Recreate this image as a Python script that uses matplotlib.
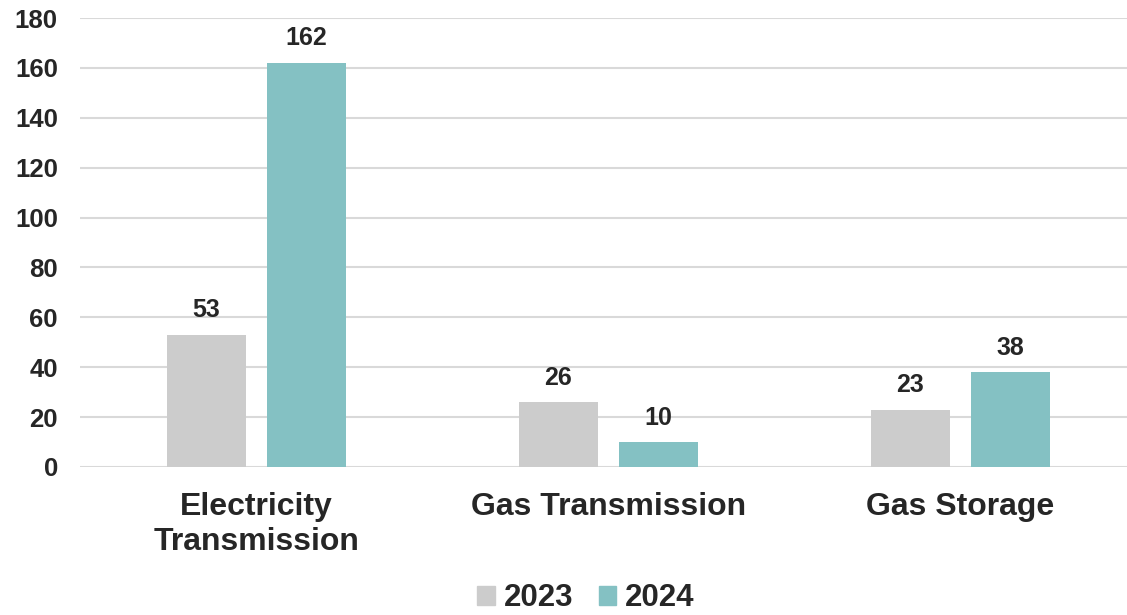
import numpy as np
import matplotlib
matplotlib.use("Agg")
import matplotlib.pyplot as plt
from matplotlib.patches import Patch

categories = ["Electricity\nTransmission", "Gas Transmission", "Gas Storage"]
years = ["2023", "2024"]
values_2023 = [53, 26, 23]
values_2024 = [162, 10, 38]
yticks = [0, 20, 40, 60, 80, 100, 120, 140, 160, 180]

colors = ["#cccccc", "#84c1c3"]
text_color = "#262626"

plt.rcParams["font.family"] = ["Liberation Sans", "DejaVu Sans"]
plt.rcParams["font.weight"] = "bold"

fig = plt.figure(figsize=(11.27, 6.15), dpi=100)
ax = fig.add_axes([0.071, 0.2407, 0.929, 0.73])

x = np.arange(len(categories))
w = 0.224
off = 0.142
b1 = ax.bar(x - off, values_2023, w, color=colors[0], zorder=3)
b2 = ax.bar(x + off, values_2024, w, color=colors[1], zorder=3)

for bars, vals in [(b1, values_2023), (b2, values_2024)]:
    for rect, v in zip(bars, vals):
        ax.annotate(str(v), (rect.get_x() + rect.get_width() / 2, v),
                    xytext=(0, 9), textcoords="offset points",
                    ha="center", va="bottom", fontsize=18,
                    fontweight="bold", color=text_color)

ax.set_ylim(0, 180)
ax.set_xlim(-0.501, 2.473)
ax.set_yticks(yticks)
ax.set_yticklabels([str(t) for t in yticks], fontsize=18.5, fontweight="bold", color=text_color)
ax.set_xticks(x)
ax.set_xticklabels(categories, fontsize=23, fontweight="bold", color=text_color,
                   linespacing=1.2)
ax.tick_params(axis="both", length=0)
ax.tick_params(axis="y", pad=16)
ax.tick_params(axis="x", pad=18)
ax.yaxis.grid(True, color="#d9d9d9", linewidth=1.5, zorder=0)
ax.set_axisbelow(True)
for s in ax.spines.values():
    s.set_visible(False)

handles = [Patch(color=c) for c in colors]
fig.legend(handles, years, loc="lower center", bbox_to_anchor=(0.52, -0.043), ncol=2,
           frameon=False, prop={"size": 22.5, "weight": "bold"},
           handlelength=0.55, handleheight=0.55, handletextpad=0.3, columnspacing=0.8,
           labelcolor=text_color)

fig.savefig("out.png", dpi=100)
